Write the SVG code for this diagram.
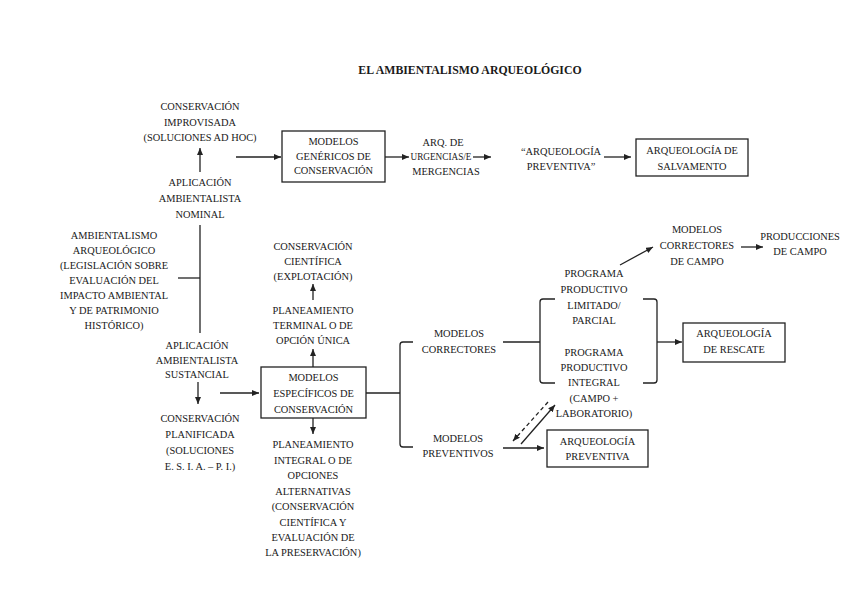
<svg xmlns="http://www.w3.org/2000/svg" width="848" height="599" viewBox="0 0 848 599" font-family="'Liberation Serif', 'Times New Roman', Times, serif">
<style>
text{font-family:'Liberation Serif','Times New Roman',Times,serif;font-size:10.4px;fill:#1a1a1a;text-anchor:middle}
.title{font-size:11.8px;font-weight:bold}
.box{fill:#fff;stroke:#222;stroke-width:1.3}
.ln{fill:none;stroke:#222;stroke-width:1.3}
.ar{fill:none;stroke:#222;stroke-width:1.3;marker-end:url(#ah)}
.da{fill:none;stroke:#222;stroke-width:1.3;stroke-dasharray:4,3;marker-end:url(#ah)}
</style>
<defs>
<marker id="ah" markerUnits="userSpaceOnUse" markerWidth="8" markerHeight="6" refX="7" refY="3" orient="auto">
<path d="M0,0 L7,3 L0,6 z" fill="#222"/>
</marker>
</defs>
<rect width="848" height="599" fill="#fff"/>
<text class="title" x="470" y="74">EL AMBIENTALISMO ARQUEOLÓGICO</text>

<g id="connectors">
<line class="ar" x1="200" y1="172" x2="200" y2="148"/>
<line class="ar" x1="236" y1="157" x2="281" y2="157"/>
<line class="ar" x1="385" y1="157" x2="409" y2="157"/>
<line class="ar" x1="473" y1="157" x2="491" y2="157"/>
<line class="ar" x1="604" y1="157" x2="631" y2="157"/>
<line class="ln" x1="200" y1="225" x2="200" y2="333"/>
<line class="ln" x1="178" y1="278" x2="200" y2="278"/>
<line class="ar" x1="198" y1="382" x2="198" y2="404"/>
<line class="ar" x1="220" y1="393" x2="259" y2="393"/>
<line class="ar" x1="313" y1="367" x2="313" y2="349"/>
<line class="ar" x1="313" y1="300" x2="313" y2="284"/>
<line class="ar" x1="313" y1="418" x2="313" y2="434"/>
<line class="ln" x1="366" y1="393" x2="400" y2="393"/>
<path class="ln" d="M413,342 H403 Q400,342 400,345 V444 Q400,447 403,447 H413"/>
<line class="ln" x1="503" y1="342" x2="540" y2="342"/>
<path class="ln" d="M555,299 H543 Q540,299 540,302 V380 Q540,383 543,383 H555"/>
<path class="ln" d="M643,299 H654 Q657,299 657,302 V380 Q657,383 654,383 H643"/>
<line class="ar" x1="657" y1="342" x2="682" y2="342"/>
<line class="ar" x1="620" y1="265" x2="653" y2="247"/>
<line class="ar" x1="741" y1="247" x2="763" y2="247"/>
<line class="ar" x1="503" y1="448" x2="544" y2="448"/>
<line class="da" x1="548" y1="402" x2="513" y2="441"/>
<line class="ar" x1="521" y1="444" x2="555" y2="405"/>
</g>

<g id="cons-improvisada">
<text x="200" y="110">CONSERVACIÓN</text>
<text x="200" y="125.5">IMPROVISADA</text>
<text x="200" y="141">(SOLUCIONES AD HOC)</text>
</g>
<g id="aplic-nominal">
<text x="200" y="186">APLICACIÓN</text>
<text x="200" y="202">AMBIENTALISTA</text>
<text x="200" y="218">NOMINAL</text>
</g>
<g id="modelos-genericos">
<rect class="box" x="282" y="131" width="103" height="51"/>
<text x="333.5" y="145">MODELOS</text>
<text x="333.5" y="159.5">GENÉRICOS DE</text>
<text x="333.5" y="174">CONSERVACIÓN</text>
</g>
<g id="arq-urgencias">
<text x="443" y="145.5">ARQ. DE</text>
<text x="441" y="160" textLength="61" lengthAdjust="spacingAndGlyphs">URGENCIAS/E</text>
<text x="446" y="175">MERGENCIAS</text>
</g>
<g id="arq-preventiva-q">
<text x="561" y="154.5">“ARQUEOLOGÍA</text>
<text x="561" y="170">PREVENTIVA”</text>
</g>
<g id="arq-salvamento">
<rect class="box" x="636" y="139" width="112" height="37"/>
<text x="692" y="153.5">ARQUEOLOGÍA DE</text>
<text x="692" y="169.5">SALVAMENTO</text>
</g>
<g id="ambientalismo">
<text x="114" y="238.5">AMBIENTALISMO</text>
<text x="114" y="253.5">ARQUEOLÓGICO</text>
<text x="114" y="268.5">(LEGISLACIÓN SOBRE</text>
<text x="114" y="283.5">EVALUACIÓN DEL</text>
<text x="114" y="298.5">IMPACTO AMBIENTAL</text>
<text x="114" y="313.5">Y DE PATRIMONIO</text>
<text x="114" y="329">HISTÓRICO)</text>
</g>
<g id="aplic-sustancial">
<text x="197" y="348.5">APLICACIÓN</text>
<text x="197" y="363.5">AMBIENTALISTA</text>
<text x="197" y="378">SUSTANCIAL</text>
</g>
<g id="cons-planificada">
<text x="200" y="421.5">CONSERVACIÓN</text>
<text x="200" y="437.5">PLANIFICADA</text>
<text x="200" y="453.5">(SOLUCIONES</text>
<text x="200" y="469.5">E. S. I. A. – P. I.)</text>
</g>
<g id="cons-cientifica">
<text x="313" y="249.5">CONSERVACIÓN</text>
<text x="313" y="264.5">CIENTÍFICA</text>
<text x="313" y="279.5">(EXPLOTACIÓN)</text>
</g>
<g id="planeamiento-terminal">
<text x="313" y="313.5">PLANEAMIENTO</text>
<text x="313" y="328.5">TERMINAL O DE</text>
<text x="313" y="343.5">OPCIÓN ÚNICA</text>
</g>
<g id="modelos-especificos">
<rect class="box" x="261" y="367" width="105" height="51"/>
<text x="313.5" y="380.5">MODELOS</text>
<text x="313.5" y="396.5">ESPECÍFICOS DE</text>
<text x="313.5" y="412.5">CONSERVACIÓN</text>
</g>
<g id="planeamiento-integral">
<text x="313" y="447.5">PLANEAMIENTO</text>
<text x="313" y="463.5">INTEGRAL O DE</text>
<text x="313" y="478.5">OPCIONES</text>
<text x="313" y="494.5">ALTERNATIVAS</text>
<text x="313" y="509.5">(CONSERVACIÓN</text>
<text x="313" y="525.5">CIENTÍFICA Y</text>
<text x="313" y="540.5">EVALUACIÓN DE</text>
<text x="313" y="555.5">LA PRESERVACIÓN)</text>
</g>
<g id="modelos-correctores">
<text x="459" y="336.5">MODELOS</text>
<text x="459" y="352.5">CORRECTORES</text>
</g>
<g id="modelos-preventivos">
<text x="458" y="441.5">MODELOS</text>
<text x="458" y="456.5">PREVENTIVOS</text>
</g>
<g id="programa-limitado">
<text x="594" y="276.5">PROGRAMA</text>
<text x="594" y="292.5">PRODUCTIVO</text>
<text x="594" y="308.5">LIMITADO/</text>
<text x="594" y="323.5">PARCIAL</text>
</g>
<g id="programa-integral">
<text x="594" y="355.5">PROGRAMA</text>
<text x="594" y="370.5">PRODUCTIVO</text>
<text x="594" y="385.5">INTEGRAL</text>
<text x="594" y="401.5">(CAMPO +</text>
<text x="594" y="416.5">LABORATORIO)</text>
</g>
<g id="modelos-correctores-campo">
<text x="697" y="232.5">MODELOS</text>
<text x="697" y="248.5">CORRECTORES</text>
<text x="697" y="264.5">DE CAMPO</text>
</g>
<g id="producciones-campo">
<text x="800" y="239.5">PRODUCCIONES</text>
<text x="800" y="254.5">DE CAMPO</text>
</g>
<g id="arq-rescate">
<rect class="box" x="683" y="323" width="102" height="39"/>
<text x="734" y="337">ARQUEOLOGÍA</text>
<text x="734" y="352.5">DE RESCATE</text>
</g>
<g id="arq-preventiva">
<rect class="box" x="547" y="430" width="101" height="37"/>
<text x="597.5" y="444.5">ARQUEOLOGÍA</text>
<text x="597.5" y="459.5">PREVENTIVA</text>
</g>
</svg>
